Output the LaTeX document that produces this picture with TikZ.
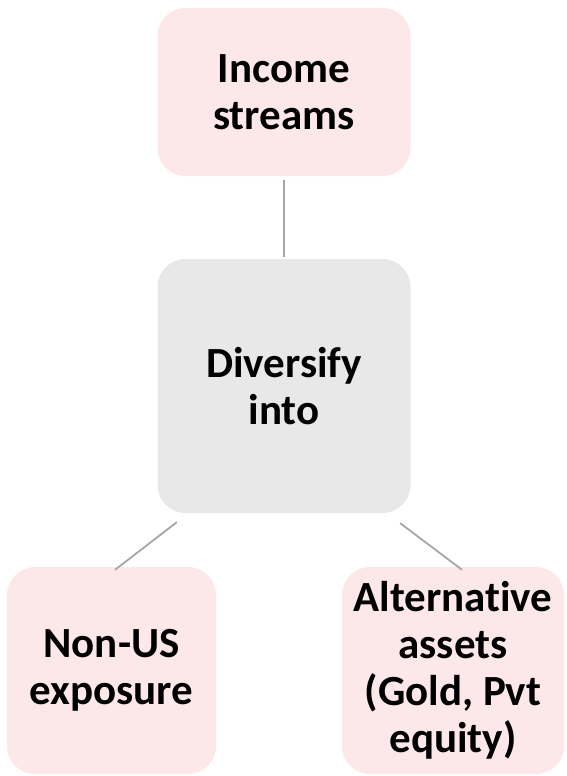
\documentclass[tikz,border=0pt]{standalone}
\usepackage{fontspec}
\setmainfont{Carlito}[Ligatures=NoCommon]
\usetikzlibrary{calc}
\definecolor{pinkfill}{HTML}{FDE8E9}
\definecolor{grayfill}{HTML}{E8E8E8}
\definecolor{linegray}{HTML}{A6A6A6}
\tikzset{
  boxbase/.style={rectangle, rounded corners=28pt, inner sep=0pt, align=center,
    font=\fontsize{43}{47}\selectfont\bfseries, text=black},
  pinkbox/.style={boxbase, fill=pinkfill},
  graybox/.style={boxbase, fill=grayfill},
  conn/.style={draw=linegray, line width=1.8pt}
}
\begin{document}
\begin{tikzpicture}[x=1pt,y=-1pt]
\useasboundingbox (0,0) rectangle (566,776);
\node[pinkbox, minimum width=253pt, minimum height=168pt] (top) at (284,92) {Income\\streams};
\node[graybox, minimum width=253pt, minimum height=254pt] (mid) at (284,386) {Diversify\\into};
\node[pinkbox, minimum width=209pt, minimum height=207pt] (left) at (111.5,670.5) {Non-US\\exposure};
\node[pinkbox, minimum width=222pt, minimum height=207pt] (right) at (453,670.5) {Alternative\\assets\\(Gold, Pvt\\equity)};
\draw[conn, shorten <=4pt, shorten >=2pt] (top.south) -- (mid.north);
\draw[conn] ([shift={(19.5pt,-9pt)}]mid.south west) -- ([shift={(3.5pt,-3pt)}]left.north);
\draw[conn] ([shift={(-10.5pt,-10pt)}]mid.south east) -- ([shift={(9pt,-3pt)}]right.north);
\end{tikzpicture}
\end{document}
